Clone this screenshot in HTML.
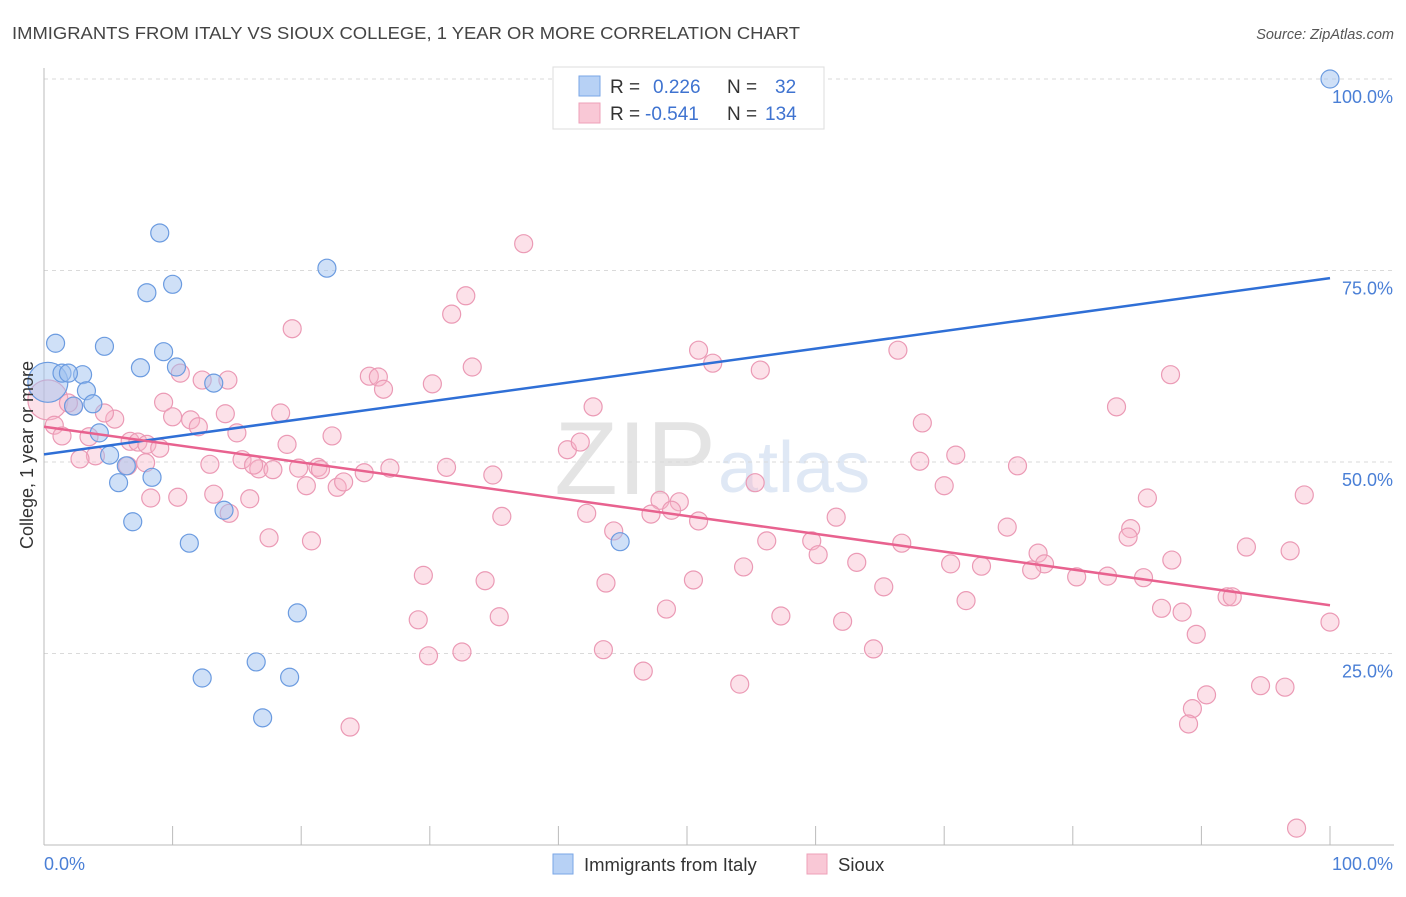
<!DOCTYPE html>
<html><head><meta charset="utf-8"><style>
body{margin:0;background:#fff;font-family:"Liberation Sans",sans-serif;}
svg text{font-family:"Liberation Sans",sans-serif;}
</style></head><body>
<svg id="chart" width="1406" height="892" xmlns="http://www.w3.org/2000/svg">
<text x="12" y="39" font-size="17.5" fill="#444" textLength="788" lengthAdjust="spacingAndGlyphs">IMMIGRANTS FROM ITALY VS SIOUX COLLEGE, 1 YEAR OR MORE CORRELATION CHART</text>
<text x="1394" y="39" font-size="14.5" fill="#555" font-style="italic" text-anchor="end">Source: ZipAtlas.com</text>
<text x="716" y="494" font-size="104" fill="#e4e4e4" text-anchor="end" font-family="Liberation Serif">ZIP</text>
<text x="718" y="492" font-size="72" fill="#dfe8f5">atlas</text>
<g id="grid"></g>
<g id="axes"></g>
<g id="marks"></g>
<text transform="translate(33,455) rotate(-90)" font-size="18" fill="#333" text-anchor="middle">College, 1 year or more</text>
<g>
<rect x="553" y="67" width="271" height="62" fill="#fff" stroke="#ddd"/>
<rect x="579" y="76" width="21" height="20" fill="#b7d1f5" stroke="#7aa6e6"/>
<rect x="579" y="103" width="21" height="20" fill="#f9c8d6" stroke="#eea0b8"/>
<text x="610" y="93" font-size="19" fill="#333">R =</text>
<text x="653" y="93" font-size="19" fill="#3f73d0">0.226</text>
<text x="727" y="93" font-size="19" fill="#333">N =</text>
<text x="775" y="93" font-size="19" fill="#3f73d0">32</text>
<text x="610" y="120" font-size="19" fill="#333">R =</text>
<text x="645" y="120" font-size="19" fill="#3f73d0">-0.541</text>
<text x="727" y="120" font-size="19" fill="#333">N =</text>
<text x="765" y="120" font-size="19" fill="#3f73d0">134</text>
</g>
<g>
<rect x="553" y="854" width="20" height="20" fill="#b7d1f5" stroke="#7aa6e6"/>
<text x="584" y="871" font-size="18.5" fill="#333">Immigrants from Italy</text>
<rect x="807" y="854" width="20" height="20" fill="#f9c8d6" stroke="#eea0b8"/>
<text x="838" y="871" font-size="18.5" fill="#333">Sioux</text>
</g>
</svg>
<script>
const yTicks=[25,50,75,100];
const yTickLabels=["25.0%","50.0%","75.0%","100.0%"];
const xTicks=[0,10,20,30,40,50,60,70,80,90,100];
const italyX=[0.9,9.0,22.0,10.0,8.0,4.7,9.3,7.5,10.3,13.2,1.4,3.0,1.9,3.3,3.8,2.3,4.3,5.1,6.4,5.8,8.4,6.9,11.3,14.0,19.7,12.3,16.5,19.1,17.0,44.8,100];
const italyY=[65.5,79.9,75.3,73.2,72.1,65.1,64.4,62.3,62.4,60.3,61.6,61.4,61.6,59.3,57.6,57.3,53.8,50.9,49.5,47.3,48.0,42.2,39.4,43.7,30.3,21.8,23.9,21.9,16.6,39.6,100];
const italyBig=[0.3,60.4];
const siouxX=[37.3,32.8,31.7,19.3,50.9,33.3,25.3,26.0,26.4,30.2,55.7,52.0,66.4,87.6,83.4,10.6,12.3,14.3,9.3,5.5,4.7,2.3,1.9,0.8,1.4,6.7,7.3,3.5,8.0,9.0,11.4,12.0,14.1,15.0,18.4,10.0,22.4,18.9,42.7,68.3,4.0,2.8,6.5,7.9,12.9,15.4,16.7,17.8,16.3,19.8,21.3,21.5,24.9,26.9,31.3,34.9,20.4,22.8,23.3,16.0,13.2,10.4,8.3,14.4,17.5,20.8,35.6,40.7,41.7,42.2,44.3,47.9,47.2,49.4,48.8,50.9,55.3,61.6,68.1,70.9,70.0,75.7,74.9,85.8,84.5,84.3,87.7,93.5,96.9,98.0,77.3,77.8,76.8,80.3,82.7,85.5,86.9,88.5,92.0,92.4,89.6,100,66.7,56.2,59.7,60.2,63.2,65.3,70.5,72.9,54.4,50.5,43.7,34.3,29.5,29.1,35.4,48.4,57.3,62.1,71.7,29.9,32.5,43.5,46.6,54.1,64.5,23.8,90.4,89.3,89.0,94.6,96.5,97.4];
const siouxY=[78.5,71.7,69.3,67.4,64.6,62.4,61.2,61.1,59.5,60.2,62.0,62.9,64.6,61.4,57.2,61.6,60.7,60.7,57.8,55.6,56.4,57.3,57.7,54.8,53.4,52.7,52.6,53.3,52.3,51.8,55.5,54.6,56.3,53.8,56.4,55.9,53.4,52.3,57.2,55.1,50.8,50.4,49.5,49.9,49.7,50.3,49.1,49.0,49.6,49.2,49.3,49.0,48.6,49.2,49.3,48.3,46.9,46.7,47.4,45.2,45.8,45.4,45.3,43.3,40.1,39.7,42.9,51.6,52.6,43.3,41.0,45.0,43.2,44.8,43.7,42.3,47.3,42.8,50.1,50.9,46.9,49.5,41.5,45.3,41.3,40.2,37.2,38.9,38.4,45.7,38.1,36.7,35.9,35.0,35.1,34.9,30.9,30.4,32.4,32.4,27.5,29.1,39.4,39.7,39.7,37.9,36.9,33.7,36.7,36.4,36.3,34.6,34.2,34.5,35.2,29.4,29.8,30.8,29.9,29.2,31.9,24.7,25.2,25.5,22.7,21.0,25.6,15.4,19.6,17.8,15.8,20.8,20.6,2.2];
const siouxBig=[0.3,58.1];
const italyTrend=[51.0,74.0];
const siouxTrend=[54.6,31.3];

const NS="http://www.w3.org/2000/svg";
const X0=44,X1=1330,Y0=845,Y1=79;
const sx=v=>X0+(v/100)*(X1-X0);
const sy=v=>Y0-(v/100)*(Y0-Y1);
function mk(tag,attrs,parent){const e=document.createElementNS(NS,tag);for(const k in attrs)e.setAttribute(k,attrs[k]);parent.appendChild(e);return e;}
const grid=document.getElementById('grid'),axes=document.getElementById('axes'),marks=document.getElementById('marks');
yTicks.forEach((t,i)=>{
  const l=mk('line',{x1:X0,x2:1394,y1:sy(t),y2:sy(t),stroke:'#dadada','stroke-dasharray':'4,4'},grid);
  
  
  const tx=mk('text',{x:1393,y:sy(t)+24,'font-size':18,fill:'#4a7fd6','text-anchor':'end'},axes);
  tx.textContent=yTickLabels[i];
  
  
});
const ya=mk('line',{x1:X0,x2:X0,y1:68,y2:Y0,stroke:'#bbb'},axes);


const xa=mk('line',{x1:X0,x2:1394,y1:Y0,y2:Y0,stroke:'#bbb'},axes);


xTicks.forEach(t=>{
  const l=mk('line',{x1:sx(t),x2:sx(t),y1:826,y2:Y0,stroke:'#bbb'},axes);
  
  
});
const xl0=mk('text',{x:44,y:870,'font-size':18,fill:'#4a7fd6'},axes);xl0.textContent='0.0%';


const xl1=mk('text',{x:1393,y:870,'font-size':18,fill:'#4a7fd6','text-anchor':'end'},axes);xl1.textContent='100.0%';



function pts(xs,ys,fill,stroke,name,big){
  const bc=mk('circle',{cx:sx(big[0]),cy:sy(big[1]),r:20,fill:fill,stroke:stroke,'stroke-width':1.2},marks);
  
  
  xs.forEach((x,i)=>{
    const c=mk('circle',{cx:sx(x),cy:sy(ys[i]),r:9,fill:fill,stroke:stroke,'stroke-width':1.2},marks);
    
    
  });
}
pts(siouxX,siouxY,'rgba(248,180,200,0.4)','#eb9ab5','sioux',siouxBig);
pts(italyX,italyY,'rgba(160,194,240,0.5)','#6b9be0','italy',italyBig);
const t1=mk('line',{x1:sx(0),y1:sy(italyTrend[0]),x2:sx(100),y2:sy(italyTrend[1]),stroke:'#2f6fd6','stroke-width':2.5},marks);


const t2=mk('line',{x1:sx(0),y1:sy(siouxTrend[0]),x2:sx(100),y2:sy(siouxTrend[1]),stroke:'#e8628f','stroke-width':2.5},marks);


</script>
</body></html>
